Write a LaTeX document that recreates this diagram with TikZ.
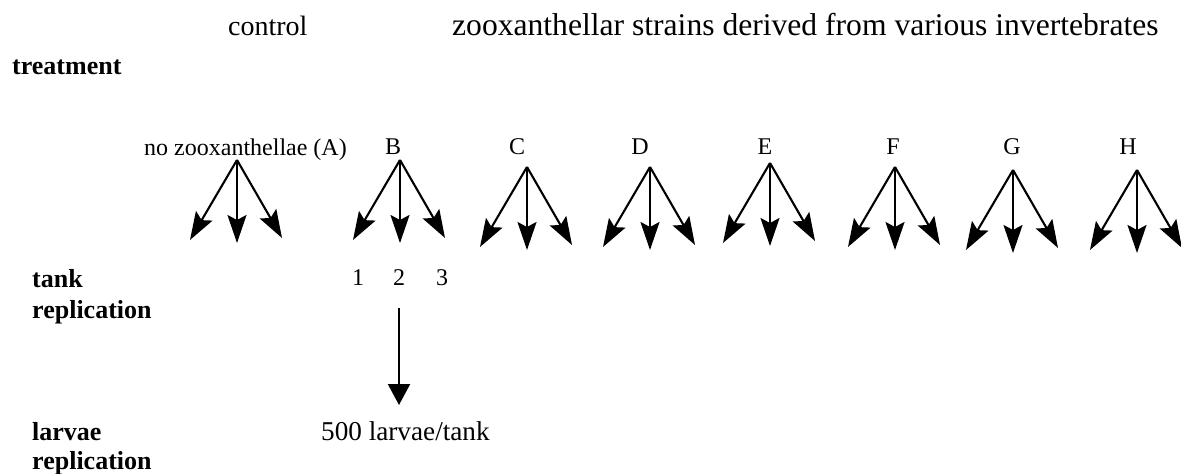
\documentclass[tikz,border=0pt]{standalone}
\usepackage{fontspec}
\setmainfont{Liberation Serif}
\usetikzlibrary{arrows.meta}
\begin{document}
\begin{tikzpicture}[x=1pt,y=-1pt,
  hdr/.style={font=\fontsize{29}{31}\selectfont, anchor=base west, inner sep=0pt},
  lvl/.style={font=\fontsize{26}{29}\selectfont\bfseries, anchor=base west, inner sep=0pt},
  grp/.style={font=\fontsize{24}{26}\selectfont, anchor=base, inner sep=0pt},
  fan/.style={line width=2.1pt, -{Stealth[length=28pt,width=19pt,inset=5pt]}},
  feed/.style={line width=2.1pt, -{Triangle[length=21pt,width=22pt]}}]
\useasboundingbox (0,0) rectangle (1181,474);

% column headings
\node[hdr, font=\fontsize{28}{30}\selectfont] (control) at (228,35) {control};
\node[hdr, font=\fontsize{31.6}{33}\selectfont] (strains) at (452,35) {zooxanthellar strains derived from various invertebrates};

% level names on the left
\node[lvl] (treat) at (12,74) {treatment};
\node[lvl] (tank) at (32,287) {tank};
\node[lvl] (tankrep) at (32,318) {replication};
\node[lvl] (larv) at (32,440) {larvae};
\node[lvl] (larvrep) at (32,469) {replication};

% treatment groups
\node[grp, anchor=base west] (labA) at (144,155) {no zooxanthellae (A)};
\foreach \n/\lx in {B/393, C/517, D/640, E/765, F/893, G/1012, H/1128}
  \node[grp] (lab\n) at (\lx,154) {\n};

% three tanks per treatment
\foreach \n/\ax/\ay in {A/237/160, B/400/160, C/527/167, D/650/167,
                        E/770/163, F/895/167, G/1013/170, H/1137/170} {
  \coordinate (apex\n) at (\ax,\ay);
  \coordinate (tip\n1) at (\ax-47,\ay+80);
  \coordinate (tip\n2) at (\ax,\ay+83);
  \coordinate (tip\n3) at (\ax+45,\ay+78);
  \draw[fan] (apex\n) -- (tip\n1);
  \draw[fan] (apex\n) -- (tip\n2);
  \draw[fan] (apex\n) -- (tip\n3);
}

% tank numbers
\node[grp] (n1) at (358,285) {1};
\node[grp] (n2) at (399,285) {2};
\node[grp] (n3) at (442,285) {3};

% larvae per tank
\node[hdr, font=\fontsize{27.2}{29}\selectfont] (perTank) at (321,440) {500 larvae/tank};
\coordinate (feedEnd) at (399,405);
\draw[feed] ([yshift=-23pt]n2.south) -- (feedEnd);
\end{tikzpicture}
\end{document}
